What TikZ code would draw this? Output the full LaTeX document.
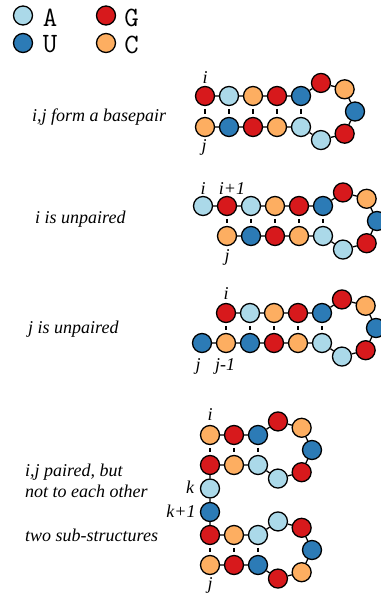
\documentclass[tikz,border=0pt]{standalone}
\usepackage{fontspec}
\setmainfont{Liberation Serif}
\usetikzlibrary{calc}
\definecolor{nA}{HTML}{ABD9E9}
\definecolor{nU}{HTML}{2C7BB6}
\definecolor{nG}{HTML}{D7191C}
\definecolor{nC}{HTML}{FDAE61}
\tikzset{
  nuc/.style={circle, draw=black, line width=1.3pt, minimum size=19pt, inner sep=0pt},
  bA/.style={nuc, fill=nA},
  bU/.style={nuc, fill=nU},
  bG/.style={nuc, fill=nG},
  bC/.style={nuc, fill=nC},
  bb/.style={line width=1.3pt},
  pl/.style={line width=1.3pt, shorten <=2.8pt, shorten >=2.8pt},
  lab/.style={font=\fontsize{18}{21}\selectfont\itshape, inner sep=0pt, anchor=base},
  desc/.style={font=\fontsize{18}{21}\selectfont\itshape, inner sep=0pt, anchor=base west},
  leg/.style={font=\fontsize{28}{30}\selectfont\ttfamily, inner sep=0pt},
}
\begin{document}
\begin{tikzpicture}[x=1pt,y=-1pt]
\path[use as bounding box, fill=white] (0,0) rectangle (380,594);

% legend
\node[bA] (lgA) at (23,15.5) {};
\node[bU] (lgU) at (23,43) {};
\node[bG] (lgG) at (106,15.5) {};
\node[bC] (lgC) at (106,43) {};
\node[leg] (tA) at (50,17.5) {A};
\node[leg] (tU) at (50,44.5) {U};
\node[leg] (tG) at (131.5,17.5) {G};
\node[leg] (tC) at (131.5,44.5) {C};

% descriptions
\node[desc] (s1) at (32,121) {i,j form a basepair};
\node[desc] (s2) at (35,223) {i is unpaired};
\node[desc] (s3) at (28,333) {j is unpaired};
\node[desc] (s4a) at (25,476) {i,j paired, but};
\node[desc] (s4b) at (25,497) {not to each other};
\node[desc] (s4c) at (25,541) {two sub-structures};

% ---------- diagram 1 ----------
\node[bG] (a1) at (205,96) {};
\node[bA] (a2) at (229,96) {};
\node[bC] (a3) at (253,96) {};
\node[bG] (a4) at (277,96) {};
\node[bU] (a5) at (301,96) {};
\coordinate (ca) at (326,111.5);
\node[bG] (al1) at ($(ca)+(-100:29)$) {};
\node[bC] (al2) at ($(ca)+(-50:29)$) {};
\node[bU] (al3) at ($(ca)+(0:29)$) {};
\node[bG] (al4) at ($(ca)+(50:29)$) {};
\node[bA] (al5) at ($(ca)+(100:29)$) {};
\node[bA] (ab5) at (301,127) {};
\node[bC] (ab4) at (277,127) {};
\node[bG] (ab3) at (253,127) {};
\node[bU] (ab2) at (229,127) {};
\node[bC] (ab1) at (205,127) {};
\draw[bb] (a1)--(a2)--(a3)--(a4)--(a5)--(al1)--(al2)--(al3)--(al4)--(al5)--(ab5)--(ab4)--(ab3)--(ab2)--(ab1);
\foreach \k in {1,...,5} {\draw[pl] (a\k)--(ab\k);}
\node[lab] (ai) at (205,83) {i};
\node[lab] (aj) at (204,151) {j};

% ---------- diagram 2 ----------
\node[bA] (b0) at (203,206) {};
\node[bG] (b1) at (227,206) {};
\node[bA] (b2) at (251,206) {};
\node[bC] (b3) at (275,206) {};
\node[bG] (b4) at (299,206) {};
\node[bU] (b5) at (323,206) {};
\coordinate (cb) at (348,221);
\node[bG] (bl1) at ($(cb)+(-100:29)$) {};
\node[bC] (bl2) at ($(cb)+(-50:29)$) {};
\node[bU] (bl3) at ($(cb)+(0:29)$) {};
\node[bG] (bl4) at ($(cb)+(50:29)$) {};
\node[bA] (bl5) at ($(cb)+(100:29)$) {};
\node[bA] (bb5) at (323,236) {};
\node[bC] (bb4) at (299,236) {};
\node[bG] (bb3) at (275,236) {};
\node[bU] (bb2) at (251,236) {};
\node[bC] (bb1) at (227,236) {};
\draw[bb] (b0)--(b1)--(b2)--(b3)--(b4)--(b5)--(bl1)--(bl2)--(bl3)--(bl4)--(bl5)--(bb5)--(bb4)--(bb3)--(bb2)--(bb1);
\foreach \k in {1,...,5} {\draw[pl] (b\k)--(bb\k);}
\node[lab] (bi) at (203,194) {i};
\node[lab] (bi1) at (232,194) {i+1};
\node[lab] (bj) at (227,261) {j};

% ---------- diagram 3 ----------
\node[bG] (c1) at (226,313) {};
\node[bA] (c2) at (250,313) {};
\node[bC] (c3) at (274,313) {};
\node[bG] (c4) at (298,313) {};
\node[bU] (c5) at (322,313) {};
\coordinate (cc) at (347,328);
\node[bG] (cl1) at ($(cc)+(-100:29)$) {};
\node[bC] (cl2) at ($(cc)+(-50:29)$) {};
\node[bU] (cl3) at ($(cc)+(0:29)$) {};
\node[bG] (cl4) at ($(cc)+(50:29)$) {};
\node[bA] (cl5) at ($(cc)+(100:29)$) {};
\node[bA] (cb5) at (322,343) {};
\node[bC] (cb4) at (298,343) {};
\node[bG] (cb3) at (274,343) {};
\node[bU] (cb2) at (250,343) {};
\node[bC] (cb1) at (226,343) {};
\node[bU] (cb0) at (202,343) {};
\draw[bb] (c1)--(c2)--(c3)--(c4)--(c5)--(cl1)--(cl2)--(cl3)--(cl4)--(cl5)--(cb5)--(cb4)--(cb3)--(cb2)--(cb1)--(cb0);
\foreach \k in {1,...,5} {\draw[pl] (c\k)--(cb\k);}
\node[lab] (ci) at (226,299) {i};
\node[lab] (cj) at (198,370) {j};
\node[lab] (cj1) at (225,370) {j-1};

% ---------- diagram 4 ----------
\node[bC] (d1) at (210,435) {};
\node[bG] (d2) at (234,435) {};
\node[bU] (d3) at (258,435) {};
\coordinate (cd) at (283,450);
\node[bG] (dl1) at ($(cd)+(-100:29)$) {};
\node[bC] (dl2) at ($(cd)+(-50:29)$) {};
\node[bU] (dl3) at ($(cd)+(0:29)$) {};
\node[bG] (dl4) at ($(cd)+(50:29)$) {};
\node[bA] (dl5) at ($(cd)+(100:29)$) {};
\node[bA] (db3) at (258,465) {};
\node[bC] (db2) at (234,465) {};
\node[bG] (db1) at (210,465) {};
\node[bA] (dk) at (210,488.5) {};
\node[bU] (dk1) at (210,512) {};
\node[bG] (e1) at (210,535) {};
\node[bC] (e2) at (234,535) {};
\node[bA] (e3) at (258,535) {};
\coordinate (ce) at (283,550);
\node[bA] (el1) at ($(ce)+(-100:29)$) {};
\node[bG] (el2) at ($(ce)+(-50:29)$) {};
\node[bU] (el3) at ($(ce)+(0:29)$) {};
\node[bC] (el4) at ($(ce)+(50:29)$) {};
\node[bG] (el5) at ($(ce)+(100:29)$) {};
\node[bU] (eb3) at (258,565) {};
\node[bG] (eb2) at (234,565) {};
\node[bC] (eb1) at (210,565) {};
\draw[bb] (d1)--(d2)--(d3)--(dl1)--(dl2)--(dl3)--(dl4)--(dl5)--(db3)--(db2)--(db1)--(dk)--(dk1)--(e1)--(e2)--(e3)--(el1)--(el2)--(el3)--(el4)--(el5)--(eb3)--(eb2)--(eb1);
\foreach \k in {1,2,3} {\draw[pl] (d\k)--(db\k); \draw[pl] (e\k)--(eb\k);}
\node[lab] (di) at (210,420) {i};
\node[lab] (dkl) at (190,493) {k};
\node[lab] (dk1l) at (181,517) {k+1};
\node[lab] (dj) at (210,589) {j};
\end{tikzpicture}
\end{document}
